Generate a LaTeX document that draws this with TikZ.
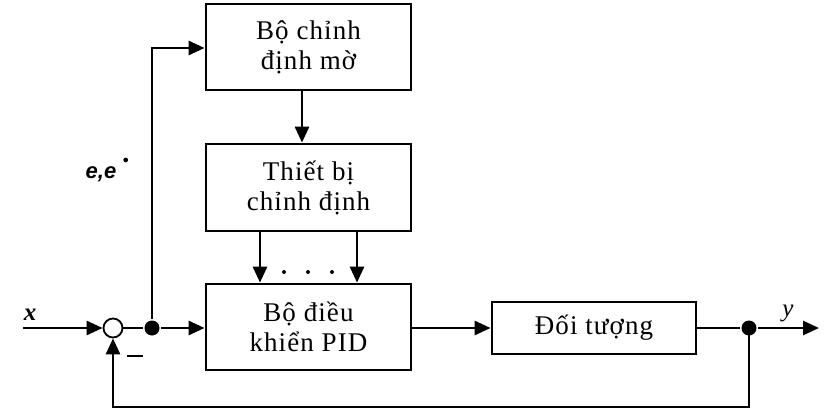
\documentclass[tikz,border=0pt]{standalone}
\usepackage{fontspec}
\setmainfont{Liberation Serif}
\newfontfamily\boxfont[LetterSpace=4]{Liberation Serif}
\newfontfamily\sigfont{Liberation Sans}
\usetikzlibrary{arrows.meta}
\begin{document}
\begin{tikzpicture}[x=1pt,y=-1pt,
  line width=2.8pt,
  arr/.style={-{Triangle[length=16pt,width=14pt]}},
  blk/.style={draw,line width=2.8pt,minimum width=205pt,inner sep=0pt,
    align=center,font=\boxfont\fontsize{27}{30}\selectfont},
  junc/.style={circle,fill=black,inner sep=0pt,minimum size=15pt},
  lbl/.style={inner sep=0pt,font=\fontsize{25}{28}\selectfont\bfseries\itshape}]
\useasboundingbox (0,0) rectangle (832,417);
\fill[white] (0,0) rectangle (832,417);

% blocks
\node[blk,minimum height=86pt] (fuzzy) at (308.5,47) {Bộ chỉnh\\định mờ};
\node[blk,minimum height=87pt] (tuner) at (308.5,187.5) {Thiết bị\\chỉnh định};
\node[blk,minimum height=86pt] (pid) at (308.5,327) {Bộ điều\\khiển PID};
\node[blk,minimum width=204pt,minimum height=52pt] (plant) at (594,328) {Đối tượng};

% summing point and branch points
\node[draw,circle,line width=1.8pt,minimum size=19pt,inner sep=0pt] (sum) at (113,328) {};
\node[junc] (j1) at (152,328) {};
\node[junc] (j2) at (749,328) {};

\coordinate (xin) at (23,328);
\coordinate (yout) at (819,328);
\coordinate (up) at (152,48);
\coordinate (fb1) at (752,407);
\coordinate (fb2) at (113,407);
\coordinate (m1) at (127,356);
\coordinate (m2) at (143,356);

% signal paths
\draw[arr] (xin) -- (sum);
\draw (sum) -- (j1);
\draw[arr] (j1) -- (pid.west |- j1);
\draw[arr] (j1) -- (up) -- (fuzzy.west |- up);
\draw[arr] (fuzzy.south -| 302,0) -- (tuner.north -| 302,0);
\draw[arr] (tuner.south -| 260,0) -- (pid.north -| 260,0);
\draw[arr] (tuner.south -| 357,0) -- (pid.north -| 357,0);
\draw[arr] (pid.east |- plant) -- (plant.west);
\draw (plant.east) -- (j2);
\draw[arr] (j2) -- (yout);
\draw[arr] (j2.center) -- (j2.center |- fb1) -- (fb2) -- (sum.south);

% dots between the tuner outputs
\foreach \px in {284,308,332} \fill (\px,272) circle (2pt);

% labels
\node[lbl] (xl) at (30,315) {x};
\node[lbl,font=\fontsize{25}{28}\selectfont\itshape] (yl) at (788,313) {y};
\node[inner sep=0pt,font=\sigfont\bfseries\itshape\fontsize{22}{24}\selectfont] (el) at (101,174) {e,e};
\fill ([xshift=8pt,yshift=5pt]el.north east) circle (2.4pt);
\draw[line width=2.8pt] (m1) -- (m2);
\end{tikzpicture}
\end{document}
